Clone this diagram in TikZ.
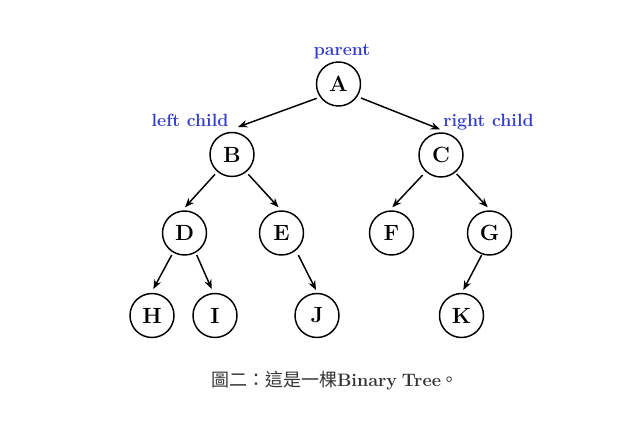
\documentclass[tikz,border=0pt]{standalone}
\usepackage{fontspec}
\newfontfamily\cjk{Noto Sans CJK TC}
\usetikzlibrary{arrows.meta}
\definecolor{lblblue}{RGB}{52,60,205}
\definecolor{capgray}{RGB}{51,51,51}
\tikzset{
  tnode/.style={circle,draw,line width=1.1pt,minimum size=33pt,inner sep=0pt,
    font=\fontsize{16.5}{18}\selectfont\bfseries},
  arr/.style={line width=1.1pt,-{Stealth[length=7pt,width=5.5pt]}},
  lbl/.style={anchor=base,text=lblblue,inner sep=0pt,font=\fontsize{13.3}{15}\selectfont\bfseries},
}
\begin{document}
\begin{tikzpicture}[x=0.75pt,y=-0.75pt]
\useasboundingbox (0,0) rectangle (643,422);
% nodes
\node[tnode] (A) at (338.5,84) {A};
\node[tnode] (B) at (232,154.5) {B};
\node[tnode] (C) at (441,155) {C};
\node[tnode] (D) at (184.5,233) {D};
\node[tnode] (E) at (281.5,233) {E};
\node[tnode] (F) at (391.5,233) {F};
\node[tnode] (G) at (489.5,233) {G};
\node[tnode] (H) at (152,315.5) {H};
\node[tnode] (I) at (215,315.5) {I};
\node[tnode] (J) at (317,315.5) {J};
\node[tnode] (K) at (461.5,315.5) {K};
% labels
\node[lbl] (lp) at (342,55) {parent};
\node[lbl] (ll) at (190,126) {left child};
\node[lbl] (lr) at (488.5,126) {right child};
% edges
\draw[arr] ([shift={(-21.8,14.3)}]A.center) -- ([shift={(6,-27.5)}]B.center);
\draw[arr] ([shift={(22.5,14)}]A.center) -- ([shift={(-1,-25.7)}]C.center);
\draw[arr] ([shift={(-17,19.8)}]B.center) -- ([shift={(0.5,-25.7)}]D.center);
\draw[arr] ([shift={(16.3,19.8)}]B.center) -- ([shift={(-3,-25.7)}]E.center);
\draw[arr] ([shift={(-18.3,20)}]C.center) -- ([shift={(0.8,-25.7)}]F.center);
\draw[arr] ([shift={(15.7,19)}]C.center) -- ([shift={(-1.8,-25.7)}]G.center);
\draw[arr] ([shift={(-12.8,22)}]D.center) -- ([shift={(1.3,-26.5)}]H.center);
\draw[arr] ([shift={(12.2,22)}]D.center) -- ([shift={(-3.3,-26.5)}]I.center);
\draw[arr] ([shift={(16.8,22)}]E.center) -- ([shift={(-1,-25.5)}]J.center);
\draw[arr] ([shift={(-7.8,22)}]G.center) -- ([shift={(1.8,-25.5)}]K.center);
% caption
\node[anchor=base,text=capgray,inner sep=0pt,font=\fontsize{13.5}{15}\selectfont] (cap) at (335,386.5)
  {{\cjk 圖二：這是一棵}{\bfseries Binary\kern-1.5pt\ Tree}{\cjk 。}};
\end{tikzpicture}
\end{document}
